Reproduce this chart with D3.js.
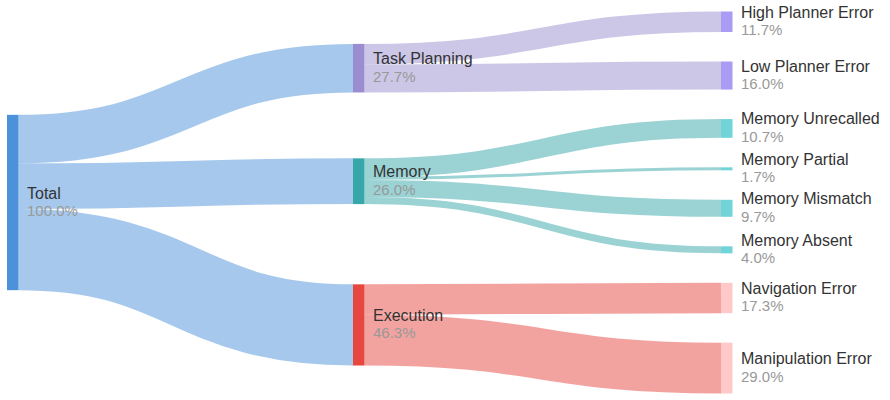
<!DOCTYPE html>
<html>
<head>
<meta charset="utf-8">
<script src="https://cdn.jsdelivr.net/npm/d3@7.9.0/dist/d3.min.js"></script>
<style>
  body { margin: 0; background: #fff; }
  svg { display: block; font-family: "Liberation Sans", Arial, sans-serif; }
</style>
</head>
<body>
<svg id="chart" width="890" height="400"></svg>
<script>
// nodes
const nodeNames = ['Total', 'Task Planning', 'Memory', 'Execution',
  'High Planner Error', 'Low Planner Error',
  'Memory Unrecalled', 'Memory Partial', 'Memory Mismatch', 'Memory Absent',
  'Navigation Error', 'Manipulation Error'];
const nodeLevels = [0, 1, 1, 1, 2, 2, 2, 2, 2, 2, 2, 2];
const nodeColors = ['#4b92da', '#9a8dd0', '#37a7a9', '#e8473f',
  '#aa9cf4', '#aa9cf4',
  '#70d4d9', '#70d4d9', '#70d4d9', '#70d4d9',
  '#ffc9c9', '#ffc9c9'];

// links (values are % of all failures)
const linkSources = ['Total', 'Total', 'Total',
  'Task Planning', 'Task Planning',
  'Memory', 'Memory', 'Memory', 'Memory',
  'Execution', 'Execution'];
const linkTargets = ['Task Planning', 'Memory', 'Execution',
  'High Planner Error', 'Low Planner Error',
  'Memory Unrecalled', 'Memory Partial', 'Memory Mismatch', 'Memory Absent',
  'Navigation Error', 'Manipulation Error'];
const linkValues = [27.7, 26.0, 46.3, 11.7, 16.0, 10.7, 1.7, 9.7, 4.0, 17.3, 29.0];

const width = 890, height = 400;
const nodeWidth = 11.5;
const py = 29.5;
const yTop = 11.5, yBottom = 393.5;
const balance = 0.27; // how much middle nodes lean toward their parent vs children

const xScale = d3.scaleLinear().domain([0, 1, 2]).range([7, 353, 721]);

const nodes = nodeNames.map((name, i) => ({
  name, index: i, layer: nodeLevels[i], color: nodeColors[i],
  sourceLinks: [], targetLinks: [],
}));
const byName = new Map(nodes.map((d) => [d.name, d]));
const links = linkValues.map((value, i) => {
  const l = { source: byName.get(linkSources[i]), target: byName.get(linkTargets[i]), value, index: i };
  l.source.sourceLinks.push(l);
  l.target.targetLinks.push(l);
  return l;
});
nodes.forEach((n) => {
  const vin = d3.sum(n.targetLinks, (l) => l.value);
  const vout = d3.sum(n.sourceLinks, (l) => l.value);
  n.value = Math.max(vin, vout);
  n.share = n.targetLinks.length ? vin : vout; // shown in the label
  n.x0 = xScale(n.layer);
  n.x1 = n.x0 + nodeWidth;
});

const columns = d3.groups(nodes, (d) => d.layer).map(([, c]) => c);

// ---- vertical layout ----
const ky = d3.min(columns, (c) => (yBottom - yTop - (c.length - 1) * py) / d3.sum(c, (d) => d.value));
const vScale = d3.scaleLinear().domain([0, 1]).range([0, ky]);

// stack each column, spreading spare room evenly
for (const c of columns) {
  let y = yTop;
  for (const node of c) {
    node.y0 = y;
    node.y1 = y + vScale(node.value);
    y = node.y1 + py;
  }
  y = (yBottom - y + py) / (c.length + 1);
  c.forEach((node, i) => { node.y0 += y * (i + 1); node.y1 += y * (i + 1); });
}
links.forEach((l) => { l.width = vScale(l.value); });

// where target.y0 should be for a fanned-out link from source
function targetTop(source, target) {
  let y = source.y0 - (source.sourceLinks.length - 1) * py / 2;
  for (const { target: node, width } of source.sourceLinks) {
    if (node === target) break;
    y += width + py;
  }
  for (const { source: node, width } of target.targetLinks) {
    if (node === source) break;
    y -= width;
  }
  return y;
}

// where source.y0 should be for a flat link to target
function sourceTop(source, target) {
  let y = target.y0 - (target.targetLinks.length - 1) * py / 2;
  for (const { source: node, width } of target.targetLinks) {
    if (node === source) break;
    y += width + py;
  }
  for (const { target: node, width } of source.sourceLinks) {
    if (node === target) break;
    y -= width;
  }
  return y;
}

function resolveCollisions(c) {
  let y = yTop;
  for (const node of c) {
    const dy = y - node.y0;
    if (dy > 0) { node.y0 += dy; node.y1 += dy; }
    y = node.y1 + py;
  }
  y = yBottom;
  for (let i = c.length - 1; i >= 0; --i) {
    const node = c[i];
    const dy = node.y1 - y;
    if (dy > 0) { node.y0 -= dy; node.y1 -= dy; }
    y = node.y0 - py;
  }
}

// middle columns sit between what their children and their parents want
for (let i = 1; i < columns.length - 1; ++i) {
  const c = columns[i];
  for (const node of c) {
    const rtl = d3.sum(node.sourceLinks, (l) => sourceTop(node, l.target) * l.value) / d3.sum(node.sourceLinks, (l) => l.value);
    const ltr = d3.sum(node.targetLinks, (l) => targetTop(l.source, node) * l.value) / d3.sum(node.targetLinks, (l) => l.value);
    const y = rtl + balance * (ltr - rtl);
    node.y1 += y - node.y0;
    node.y0 = y;
  }
  resolveCollisions(c);
}

for (const n of nodes) {
  let ya = n.y0, yb = n.y0;
  for (const l of n.sourceLinks) { l.y0 = ya + l.width / 2; ya += l.width; }
  for (const l of n.targetLinks) { l.y1 = yb + l.width / 2; yb += l.width; }
}

// ---- draw ----
const svg = d3.select('#chart');

const linkPath = d3.linkHorizontal()
  .source((d) => [d.source.x1, d.y0])
  .target((d) => [d.target.x0, d.y1]);

svg.append('g')
  .attr('class', 'links')
  .attr('fill', 'none')
  .selectAll('path')
  .data(links)
  .join('path')
  .attr('d', linkPath)
  .attr('stroke', (d) => d.source.color)
  .attr('stroke-opacity', 0.5)
  .attr('stroke-width', (d) => Math.max(1, d.width));

svg.append('g')
  .attr('class', 'nodes')
  .selectAll('rect')
  .data(nodes)
  .join('rect')
  .attr('x', (d) => d.x0)
  .attr('y', (d) => d.y0)
  .attr('width', (d) => d.x1 - d.x0)
  .attr('height', (d) => Math.max(1, d.y1 - d.y0))
  .attr('fill', (d) => d.color);

const labels = svg.append('g')
  .attr('class', 'labels')
  .selectAll('g')
  .data(nodes)
  .join('g')
  .attr('transform', (d) => `translate(${d.x1 + 8.5},${(d.y0 + d.y1) / 2})`);

labels.append('text')
  .attr('y', -4)
  .attr('font-size', 16)
  .attr('fill', '#333')
  .text((d) => d.name);

labels.append('text')
  .attr('y', 13.5)
  .attr('font-size', 15)
  .attr('fill', '#999')
  .text((d) => d.share.toFixed(1) + '%');
</script>
</body>
</html>
